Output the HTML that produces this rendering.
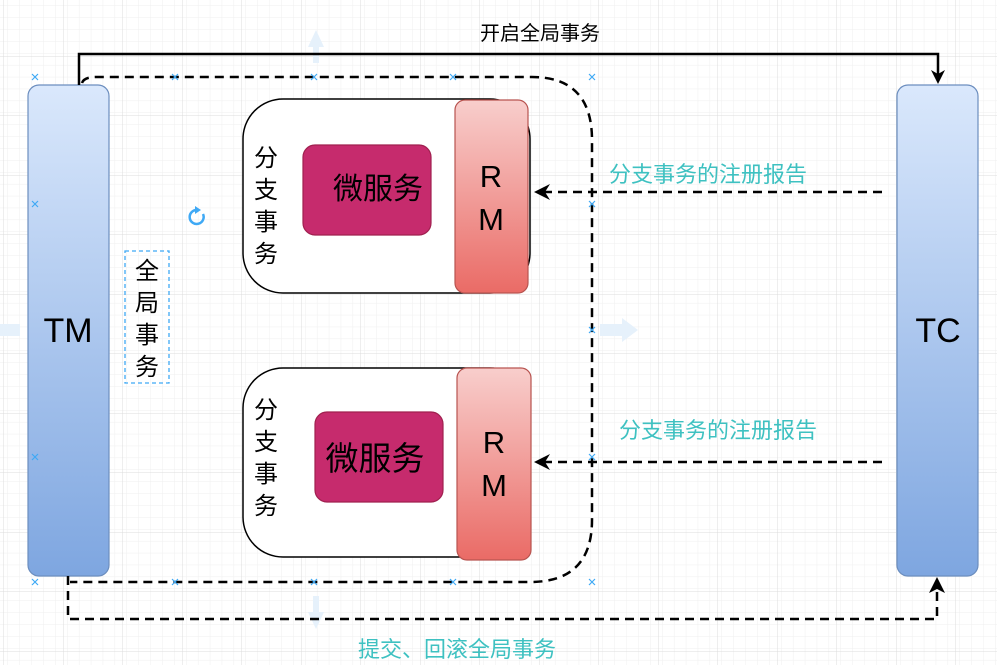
<!DOCTYPE html>
<html><head><meta charset="utf-8"><style>
html,body{margin:0;padding:0;background:#fff;}
svg{display:block;font-family:"Liberation Sans","Noto Sans CJK SC",sans-serif;}
</style></head><body>
<svg width="997" height="665" viewBox="0 0 997 665" xmlns="http://www.w3.org/2000/svg">
<defs>
<pattern id="minor" width="11.9" height="11.9" patternUnits="userSpaceOnUse" x="4" y="-3">
<path d="M11.9 0V11.9M0 11.9H11.9" stroke="#efefef" stroke-width="1" fill="none"/>
</pattern>
<pattern id="major" width="59.5" height="59.5" patternUnits="userSpaceOnUse" x="4" y="-3">
<rect width="59.5" height="59.5" fill="url(#minor)"/>
<path d="M59.5 0V59.5M0 59.5H59.5" stroke="#dcdcdc" stroke-width="1" fill="none"/>
</pattern>
<linearGradient id="blue" x1="0" y1="0" x2="0" y2="1"><stop offset="0" stop-color="#dae8fc"/><stop offset="1" stop-color="#7ea6e0"/></linearGradient>
<linearGradient id="red" x1="0" y1="0" x2="0" y2="1"><stop offset="0" stop-color="#f8cecc"/><stop offset="1" stop-color="#ea6b66"/></linearGradient>
</defs>
<rect width="997" height="665" fill="url(#major)"/>

<g fill="#e6f1fb">
<path d="M308 47 L316 30 L324 47 L319 47 L319 63 L313 63 L313 47Z"/>
<path d="M600 324 L622 324 L622 318 L638 330 L622 342 L622 336 L600 336Z"/>
<path d="M308 612 L316 629 L324 612 L319 612 L319 596 L313 596 L313 612Z"/>
<path d="M0 324 L20 324 L20 336 L0 336Z"/>
</g>

<rect x="28" y="85" width="81" height="491" rx="11" fill="url(#blue)" stroke="#6c8ebf" stroke-width="1.2"/>
<rect x="897" y="85" width="81" height="491" rx="11" fill="url(#blue)" stroke="#6c8ebf" stroke-width="1.2"/>
<text x="68" y="342" font-size="34" text-anchor="middle">TM</text>
<text x="938" y="342" font-size="34" text-anchor="middle">TC</text>

<rect x="243" y="99" width="287" height="194" rx="40" fill="#fff" stroke="#000" stroke-width="1.5"/>
<rect x="455" y="100" width="73" height="193" rx="10" fill="url(#red)" stroke="#b85450" stroke-width="1.2"/>
<rect x="303" y="145" width="128" height="90" rx="12" fill="#c62b6d" stroke="#a0204f" stroke-width="1.2"/>
<text x="378" y="199" font-size="30" text-anchor="middle">微服务</text>
<text x="491" y="187" font-size="31" text-anchor="middle">R</text>
<text x="491" y="230" font-size="31" text-anchor="middle">M</text>
<g font-size="24" text-anchor="middle"><text x="266" y="166">分</text><text x="266" y="198">支</text><text x="266" y="230">事</text><text x="266" y="262">务</text></g>

<rect x="243" y="368" width="287" height="189" rx="40" fill="#fff" stroke="#000" stroke-width="1.5"/>
<rect x="457" y="368" width="74" height="192" rx="10" fill="url(#red)" stroke="#b85450" stroke-width="1.2"/>
<rect x="315" y="412" width="128" height="90" rx="12" fill="#c62b6d" stroke="#a0204f" stroke-width="1.2"/>
<text x="375" y="470" font-size="33" text-anchor="middle">微服务</text>
<text x="494" y="453" font-size="31" text-anchor="middle">R</text>
<text x="494" y="496" font-size="31" text-anchor="middle">M</text>
<g font-size="24" text-anchor="middle"><text x="266" y="418">分</text><text x="266" y="450">支</text><text x="266" y="482">事</text><text x="266" y="514">务</text></g>

<rect x="125" y="251" width="44" height="132" fill="none" stroke="#3fa9f5" stroke-width="1.3" stroke-dasharray="4 3"/>
<g font-size="24" text-anchor="middle"><text x="147" y="279">全</text><text x="147" y="311">局</text><text x="147" y="343">事</text><text x="147" y="375">务</text></g>

<path d="M79 85 V54 H938 V78" fill="none" stroke="#000" stroke-width="2.5"/>
<path d="M931 70 L938 84 L945 70 L938 74Z" fill="#000"/>
<text x="540" y="40" font-size="20" text-anchor="middle">开启全局事务</text>

<path d="M82 83 Q84 77 96 77 H532 Q592 77 592 140 V520 Q592 582 530 582 H70" fill="none" stroke="#000" stroke-width="2.5" stroke-dasharray="9 6"/>

<path d="M882 192 H545" fill="none" stroke="#000" stroke-width="2.5" stroke-dasharray="9 6"/>
<path d="M534 192 L550 184 L545 192 L550 200Z" fill="#000"/>
<path d="M882 462 H545" fill="none" stroke="#000" stroke-width="2.5" stroke-dasharray="9 6"/>
<path d="M534 462 L550 454 L545 462 L550 470Z" fill="#000"/>
<g font-size="22" fill="#3ec1c1"><text x="609" y="182">分支事务的注册报告</text><text x="619" y="438">分支事务的注册报告</text>
<text x="358" y="657">提交、回滚全局事务</text></g>

<path d="M68 576 V619 H937 V592" fill="none" stroke="#000" stroke-width="2.5" stroke-dasharray="9 6"/>
<path d="M937 577 L929 593 L937 589 L945 593Z" fill="#000"/>

<g stroke="#3fa9f5" stroke-width="1.2">
<path d="M32 74l6 6M38 74l-6 6"/><path d="M172 74l6 6M178 74l-6 6"/><path d="M311 74l6 6M317 74l-6 6"/><path d="M450 74l6 6M456 74l-6 6"/><path d="M589 74l6 6M595 74l-6 6"/>
<path d="M32 201l6 6M38 201l-6 6"/><path d="M32 454l6 6M38 454l-6 6"/><path d="M589 454l6 6M595 454l-6 6"/><path d="M589 201l6 6M595 201l-6 6"/><path d="M589 327l6 6M595 327l-6 6"/>
<path d="M32 579l6 6M38 579l-6 6"/><path d="M172 579l6 6M178 579l-6 6"/><path d="M311 579l6 6M317 579l-6 6"/><path d="M450 579l6 6M456 579l-6 6"/><path d="M589 579l6 6M595 579l-6 6"/>
</g>
<path d="M203 214 A7 7 0 1 1 197 210" fill="none" stroke="#3fa9f5" stroke-width="2.5"/>
<path d="M195 206 L201 210 L195 214Z" fill="#3fa9f5"/>
</svg>
</body></html>
